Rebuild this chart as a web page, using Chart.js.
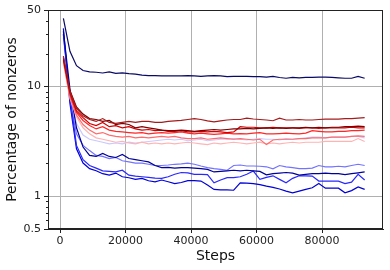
<!DOCTYPE html>
<html>
<head>
<meta charset="utf-8">
<script src="https://cdn.jsdelivr.net/npm/chart.js@4"></script>
<style>
  html, body { margin: 0; padding: 0; background: #fff; }
</style>
</head>
<body>
<canvas id="chart" width="390" height="270"></canvas>
<script>
// training steps (x)
const steps = [1000,3000,5000,7000,9000,11000,13000,15000,17000,19000,21000,23000,25000,27000,29000,31000,
  33000,35000,37000,39000,41000,43000,45000,47000,49000,51000,53000,55000,57000,59000,61000,63000,65000,
  67000,69000,71000,73000,75000,77000,79000,81000,83000,85000,87000,89000,91000,93000];

const xTicks = [0, 20000, 40000, 60000, 80000];
const yTicks = [0.5, 1, 10, 50];
const yMinor = [0.6,0.7,0.8,0.9,2,3,4,5,6,7,8,9,20,30,40];

// percentage of nonzeros, one array per run
const navyRun = [42,21,15.5,14,13.6,13.5,13.3,13.6,13.2,13.3,13.1,13.0,12.7,12.6,12.6,12.5,12.5,12.5,12.5,12.6,
  12.5,12.4,12.5,12.6,12.5,12.3,12.4,12.4,12.4,12.3,12.3,12.2,12.4,12.1,11.9,12.1,12.0,12.1,12.1,12.2,12.2,
  12.1,12.0,11.9,11.9,12.4,11.9];
const red1 = [19.0,9.0,6.3,5.4,5.0,4.8,5.1,4.7,4.6,4.7,4.8,4.7,4.8,4.8,4.7,4.7,4.8,4.85,4.9,5.0,5.1,5.0,4.85,
  4.75,4.85,4.95,5.0,5.0,5.15,5.05,5.0,4.95,4.87,5.15,4.95,4.95,5.0,4.95,4.95,5.0,5.05,5.05,5.05,5.1,5.1,5.15,5.2];
const red2 = [18.0,9.2,6.5,5.6,5.1,5.0,4.8,4.9,4.5,4.6,4.5,4.2,4.3,4.2,4.1,4.0,3.95,3.95,4.0,3.95,3.9,3.95,4.0,
  4.05,4.0,4.05,4.1,4.1,4.15,4.1,4.15,4.2,4.15,4.2,4.15,4.2,4.2,4.25,4.2,4.25,4.2,4.25,4.25,4.3,4.3,4.35,4.3];
const red3 = [18.5,8.8,6.0,5.2,4.6,4.4,4.7,4.3,4.4,4.2,4.3,4.1,4.0,4.05,3.95,4.0,3.9,3.9,3.95,3.85,3.85,3.9,3.85,
  3.9,3.85,3.8,3.85,4.3,4.25,4.25,4.2,4.2,4.25,4.2,4.2,4.2,4.15,4.2,4.2,4.15,4.2,4.2,4.2,4.2,4.25,4.2,4.2];
const red4 = [17.5,8.5,5.8,4.9,4.4,4.1,4.3,4.0,3.9,3.85,3.8,3.75,3.8,3.7,3.75,3.8,3.75,3.8,3.85,3.75,3.7,3.75,3.7,
  3.65,3.7,3.75,3.7,3.72,3.7,3.75,3.8,3.7,3.7,3.72,3.75,3.72,3.7,3.75,3.95,3.9,3.85,3.85,3.9,3.9,3.95,3.95,4.0];
const red5 = [17.0,8.0,5.5,4.5,4.0,3.7,3.8,3.6,3.5,3.45,3.5,3.4,3.45,3.4,3.45,3.5,3.45,3.5,3.4,3.35,3.35,3.4,3.3,
  3.35,3.4,3.35,3.3,3.35,3.3,3.25,3.3,2.95,3.25,3.3,3.3,3.3,3.35,3.35,3.4,3.4,3.4,3.45,3.45,3.45,3.5,3.55,3.5];
const red6 = [16.5,7.8,5.3,4.2,3.7,3.4,3.3,3.2,3.1,3.15,3.05,3.0,3.1,3.0,3.05,3.0,3.05,3.0,3.05,3.1,3.05,3.0,2.95,
  3.05,3.0,3.05,3.1,3.05,3.0,3.05,3.1,3.0,3.05,3.0,3.05,3.1,3.05,3.1,3.1,3.1,3.15,3.15,3.15,3.15,3.15,3.35,3.15];
const blueLav = [28,8.5,4.6,3.6,3.3,3.2,3.1,3.0,3.05,3.0,3.1,3.05,3.1,3.15,3.2,3.25,3.3,3.25,3.3,3.2,3.25,3.3,3.2,
  3.25,3.3,3.3,3.35,3.3,3.25,3.3,3.35,3.3,3.3,3.25,3.35,3.3,3.35,3.4,3.45,3.45,3.4,3.45,3.45,3.45,3.5,3.5,3.4];
const blueLight = [30,7.5,3.7,2.9,2.6,2.35,2.3,2.2,2.25,2.1,2.05,2.0,2.0,1.95,1.9,1.9,1.92,1.95,1.97,2.0,1.95,1.88,
  1.82,1.78,1.75,1.72,1.9,1.92,1.88,1.88,1.87,1.85,1.77,1.9,1.85,1.82,1.78,1.78,1.8,1.9,1.85,1.85,1.87,1.85,1.9,1.95,1.9];
const blueDark = [32,9.5,4.2,2.8,2.35,2.3,2.45,2.3,2.25,2.4,2.2,2.15,2.1,2.05,1.9,1.82,1.83,1.8,1.82,1.82,1.8,1.78,
  1.75,1.66,1.68,1.7,1.72,1.7,1.72,1.7,1.68,1.56,1.6,1.62,1.64,1.62,1.55,1.58,1.6,1.6,1.62,1.6,1.6,1.57,1.6,1.63,1.66];
const blueMid = [30,8.0,2.9,2.15,1.9,1.8,1.7,1.68,1.66,1.72,1.55,1.52,1.5,1.48,1.46,1.45,1.5,1.58,1.64,1.63,1.58,1.58,
  1.57,1.32,1.4,1.47,1.47,1.5,1.58,1.69,1.42,1.48,1.53,1.42,1.32,1.45,1.53,1.53,1.52,1.37,1.37,1.37,1.37,1.3,1.34,1.58,1.4];
const blueBright = [34,7.0,2.7,2.0,1.78,1.7,1.6,1.55,1.62,1.5,1.47,1.42,1.45,1.38,1.35,1.4,1.35,1.3,1.33,1.38,1.38,
  1.37,1.26,1.15,1.14,1.14,1.13,1.32,1.31,1.3,1.27,1.23,1.2,1.16,1.11,1.07,1.11,1.15,1.19,1.3,1.18,1.18,1.18,1.07,
  1.12,1.21,1.15];

const runs = [
  {data: red1, color: '#a51c1c'},
  {data: red2, color: '#7f0000'},
  {data: red3, color: '#d40000'},
  {data: red4, color: '#ff2626'},
  {data: red5, color: '#ff6b6b'},
  {data: red6, color: '#ffb3b3'},
  {data: navyRun, color: '#0a0a66'},
  {data: blueDark, color: '#00009a'},
  {data: blueMid, color: '#2828ff'},
  {data: blueBright, color: '#0000d8'},
  {data: blueLight, color: '#7373ff'},
  {data: blueLav, color: '#c9c9ff'},
];

Chart.defaults.font.family = 'DejaVu Sans';
Chart.defaults.color = '#222';

// matplotlib-like frame on all four sides + minor log ticks
const framePlugin = {
  id: 'frame',
  afterDraw(chart) {
    const c = chart.ctx, a = chart.chartArea, y = chart.scales.y;
    c.save();
    c.strokeStyle = '#222';
    c.lineWidth = 1;
    c.strokeRect(a.left + 0.5, a.top + 0.5, a.right - a.left - 1, a.bottom - a.top - 1);
    c.beginPath();
    yMinor.forEach(v => {
      const p = Math.round(y.getPixelForValue(v)) + 0.5;
      c.moveTo(a.left - 2, p);
      c.lineTo(a.left, p);
    });
    c.stroke();
    c.restore();
  }
};

let ctx = document.getElementById('chart').getContext('2d');
new Chart(ctx, {
  type: 'line',
  data: {
    datasets: runs.map(r => ({
      data: r.data.map((v, i) => ({x: steps[i], y: v})),
      borderColor: r.color,
      backgroundColor: r.color,
      borderWidth: 1.2,
      pointRadius: 0,
      tension: 0,
    }))
  },
  options: {
    responsive: false,
    animation: false,
    devicePixelRatio: 1,
    layout: {padding: {top: 10, right: 7, left: 0, bottom: 0}},
    plugins: {legend: {display: false}, tooltip: {enabled: false}},
    scales: {
      x: {
        type: 'linear',
        min: -3700,
        max: 98600,
        afterBuildTicks: s => { s.ticks = xTicks.map(v => ({value: v})); },
        afterFit: s => { s.height = 41; },
        grid: {color: '#b0b0b0', tickColor: '#222', tickLength: 4},
        border: {color: '#222'},
        ticks: {font: {size: 11}, padding: 2, maxRotation: 0, callback: v => String(v)},
        title: {display: true, text: 'Steps', font: {size: 14}, color: '#111', padding: {top: 0, bottom: 5}}
      },
      y: {
        type: 'logarithmic',
        min: 0.5,
        max: 50,
        afterBuildTicks: s => { s.ticks = yTicks.map(v => ({value: v})); },
        afterFit: s => { s.width = 48; },
        grid: {color: '#b0b0b0', tickColor: '#222', tickLength: 4},
        border: {color: '#222'},
        ticks: {font: {size: 11}, padding: 3, callback: v => String(v)},
        title: {display: true, text: 'Percentage of nonzeros', font: {size: 14}, color: '#111', padding: {top: 4, bottom: 0}}
      }
    }
  },
  plugins: [framePlugin]
});
</script>
</body>
</html>
